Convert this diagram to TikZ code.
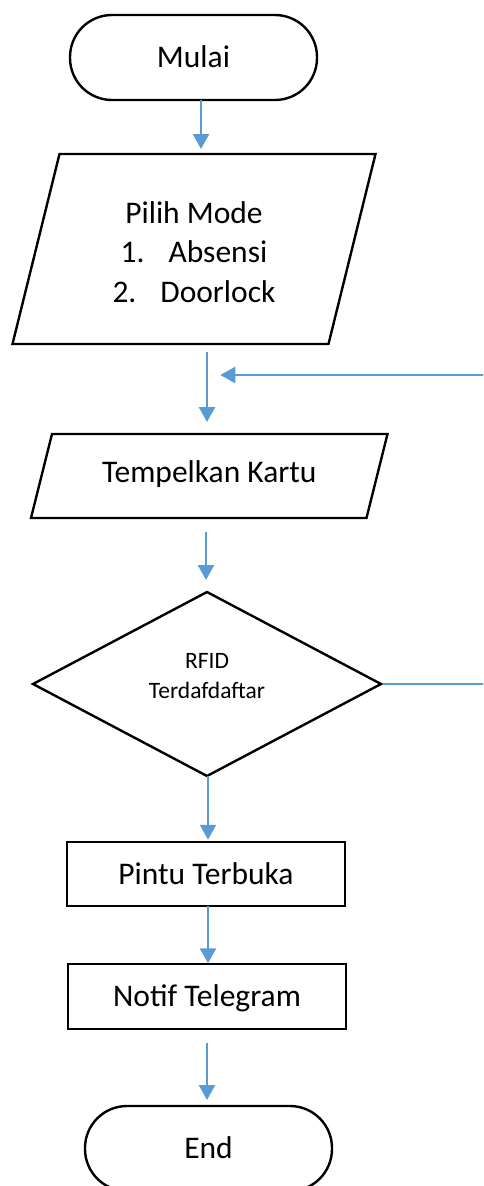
\documentclass[tikz,border=0pt]{standalone}
\usepackage{fontspec}
\setmainfont{Carlito}
\usetikzlibrary{shapes.geometric,arrows.meta}
\definecolor{flowblue}{HTML}{5B9BD5}
\begin{document}
\begin{tikzpicture}[x=1pt,y=-1pt,
  basefont/.style={font=\fontsize{31.5}{39.5}\selectfont},
  outline/.style={draw=black,line width=2.4pt,line join=miter},
  plain/.style={basefont,inner sep=0pt,outer sep=0pt,align=center},
  oneline/.style={text height=29.5pt,text depth=8.8pt},
  terminal/.style={plain,oneline,outline,rectangle,rounded corners=42pt,
    minimum width=247pt,minimum height=85pt},
  process/.style={plain,oneline,outline,rectangle,
    minimum width=278pt,minimum height=64.5pt},
  decision/.style={outline,diamond,inner sep=0pt,outer sep=0pt,
    minimum width=348pt,minimum height=184pt},
  flow/.style={draw=flowblue,line width=2.5pt,
    -{Triangle[width=16pt,length=15pt]}},
  thinflow/.style={draw=flowblue,line width=1.3pt},
]
\useasboundingbox (0,0) rectangle (483,1186);
\clip (0,0) rectangle (483,1186);

% start
\node[terminal] (mu) at (193.5,57.5) {Mulai};

% mode selection (input)
\node[plain,minimum width=316pt,minimum height=190pt] (pm) at (194,249) {};
\draw[outline] ([xshift=23.5pt]pm.north west) -- ([xshift=23.5pt]pm.north east)
  -- ([xshift=-23.5pt]pm.south east) -- ([xshift=-23.5pt]pm.south west) -- cycle;
\node[plain] (pmtext) at ([yshift=-3pt]pm.center)
  {Pilih Mode\\1.\hspace{24pt}Absensi\\2.\hspace{24pt}Doorlock};

% card input
\node[plain,text height=29.5pt,text depth=16pt,minimum width=335.5pt,minimum height=84pt]
  (tk) at (209.25,476) {Tempelkan Kartu};
\draw[outline] ([xshift=10.5pt]tk.north west) -- ([xshift=10.5pt]tk.north east)
  -- ([xshift=-10.5pt]tk.south east) -- ([xshift=-10.5pt]tk.south west) -- cycle;

% decision
\node[decision] (dec) at (207,684) {};
\node[plain,font=\fontsize{23.5}{30}\selectfont] (dectext) at ([yshift=8pt]dec.center)
  {RFID\\Terdafdaftar};

% actions
\node[process] (pt) at (206,874) {Pintu Terbuka};
\node[process] (nt) at (207,996.5) {Notif Telegram};

% end
\node[terminal] (en) at (208.5,1148.5) {End};

% loop-back ends beyond the right border
\coordinate (loopbot) at (495,684);
\coordinate (looptop) at (495,375);

% connectors
\draw[flow] ([xshift=7.5pt]mu.south) -- ([xshift=7.5pt,yshift=5pt]mu.south |- pm.north);
\draw[flow] ([xshift=-2.25pt,yshift=-8pt]tk.north |- pm.south) -- ([xshift=-2.25pt,yshift=12pt]tk.north);
\draw[flow] ([xshift=-1pt,yshift=-14pt]dec.north |- tk.south) -- ([xshift=-1pt,yshift=12pt]dec.north);
\draw[flow] ([xshift=1pt]dec.south) -- ([xshift=2pt,yshift=2pt]pt.north);
\draw[flow] ([xshift=2pt]pt.south) -- ([xshift=1pt,yshift=1pt]nt.north);
\draw[flow] ([yshift=-14pt]nt.south) -- ([xshift=-1.5pt,yshift=6pt]en.north);
\draw[thinflow] ([xshift=2pt]dec.east) -- (loopbot);
\draw[flow] (looptop) -- ([xshift=11pt]looptop -| tk.north);
\end{tikzpicture}
\end{document}
